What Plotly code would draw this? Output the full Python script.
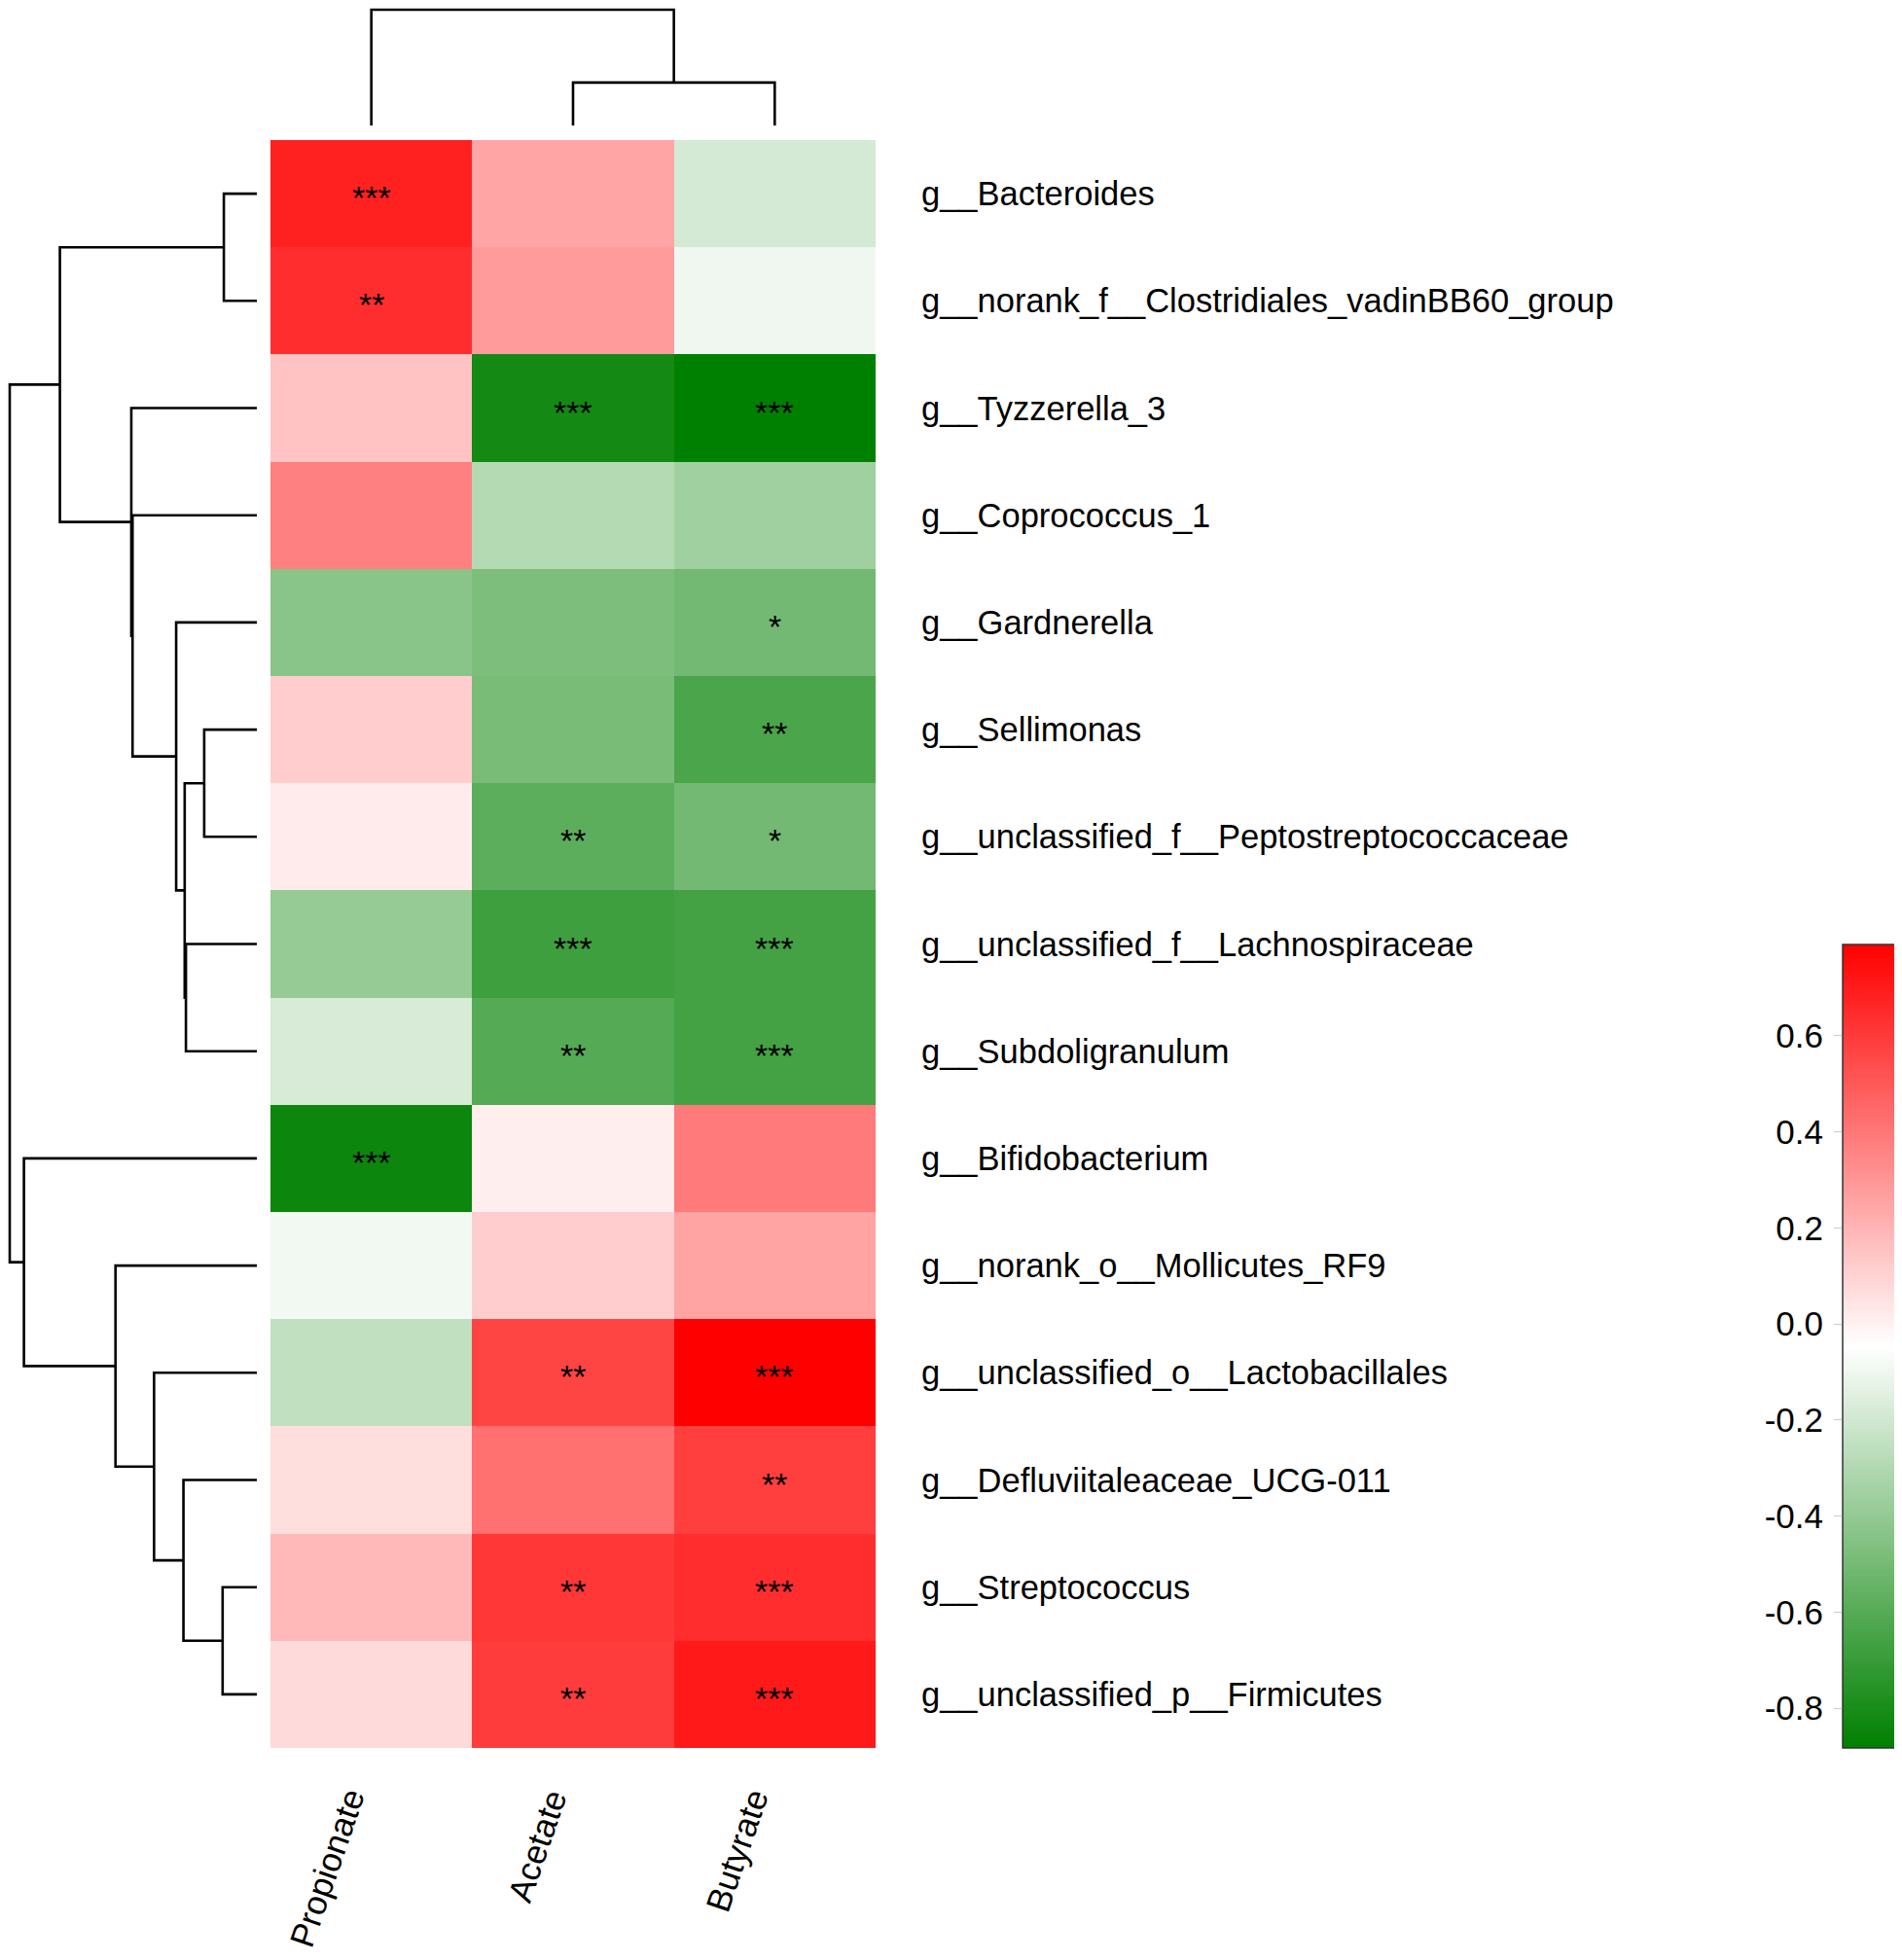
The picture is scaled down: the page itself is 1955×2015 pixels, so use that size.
import plotly.graph_objects as go
import numpy as np

W, H = 1955, 2015
PAGE_MARGIN = 8  # default body margin of the html page

# ---------------- data ----------------
taxa = [
    "g__Bacteroides",
    "g__norank_f__Clostridiales_vadinBB60_group",
    "g__Tyzzerella_3",
    "g__Coprococcus_1",
    "g__Gardnerella",
    "g__Sellimonas",
    "g__unclassified_f__Peptostreptococcaceae",
    "g__unclassified_f__Lachnospiraceae",
    "g__Subdoligranulum",
    "g__Bifidobacterium",
    "g__norank_o__Mollicutes_RF9",
    "g__unclassified_o__Lactobacillales",
    "g__Defluviitaleaceae_UCG-011",
    "g__Streptococcus",
    "g__unclassified_p__Firmicutes",
]
acids = ["Propionate", "Acetate", "Butyrate"]

propionate = [0.685, 0.643, 0.150, 0.370, -0.434, 0.117, 0.019, -0.391, -0.178,
              -0.844, -0.089, -0.253, 0.062, 0.183, 0.075]
acetate = [0.249, 0.281, -0.816, -0.292, -0.473, -0.490, -0.581, -0.680, -0.604,
           0.010, 0.117, 0.567, 0.423, 0.609, 0.593]
butyrate = [-0.184, -0.096, -0.883, -0.358, -0.506, -0.637, -0.506, -0.660, -0.660,
            0.390, 0.255, 0.790, 0.587, 0.643, 0.708]

sig_propionate = ["***", "**", "", "", "", "", "", "", "", "***", "", "", "", "", ""]
sig_acetate = ["", "", "***", "", "", "", "**", "***", "**", "", "", "**", "", "**", "**"]
sig_butyrate = ["", "", "***", "", "*", "**", "*", "***", "***", "", "", "***", "**", "***", "***"]

# row dendrogram (leaf indices 0..14 in display order, new nodes numbered from 15)
row_link_left = [0, 5, 7, 16, 4, 3, 2, 15, 13, 12, 11, 10, 9, 22]
row_link_right = [1, 6, 8, 17, 18, 19, 20, 21, 14, 23, 24, 25, 26, 27]
row_link_height = [0.267, 0.426, 0.574, 0.584, 0.653, 1.006, 1.016, 1.594,
                   0.277, 0.594, 0.832, 1.144, 1.885, 2.000]

# column dendrogram (leaves 0..2, new nodes from 3)
col_link_left = [1, 0]
col_link_right = [2, 3]
col_link_height = [0.371, 1.000]

cbar_ticks = [-0.8, -0.6, -0.4, -0.2, 0.0, 0.2, 0.4, 0.6]

# ---------------- helpers ----------------
def px_x(p):
    return (p - PAGE_MARGIN) / W


def px_y(p):
    return 1 - (p - PAGE_MARGIN) / H


def dendro_segments(n_leaves, left, right, height):
    pos = {i: float(i) for i in range(n_leaves)}
    hgt = {i: 0.0 for i in range(n_leaves)}
    hs, ps = [], []
    for k, (a, b, h) in enumerate(zip(left, right, height)):
        node = n_leaves + k
        pa, pb = pos[a], pos[b]
        hs += [hgt[a], h, h, hgt[b], None]
        ps += [pa, pa, pb, pb, None]
        pos[node] = (pa + pb) / 2
        hgt[node] = h
    return hs, ps


z = [[p, a, b] for p, a, b in zip(propionate, acetate, butyrate)]
stars = [[p, a, b] for p, a, b in zip(sig_propionate, sig_acetate, sig_butyrate)]
zmin = min(min(propionate), min(acetate), min(butyrate))
zmax = max(max(propionate), max(acetate), max(butyrate))
colorscale = [[0.0, "#008000"], [0.5, "#FFFFFF"], [1.0, "#FF0000"]]

n_rows = len(taxa)
n_cols = len(acids)
FONT = "Liberation Sans, Arial, sans-serif"

fig = go.Figure()

# heatmap
fig.add_trace(go.Heatmap(
    z=z, x=list(range(n_cols)), y=list(range(n_rows)),
    colorscale=colorscale, zmin=zmin, zmax=zmax, showscale=False,
    xaxis="x", yaxis="y", hoverinfo="skip",
))

# row dendrogram
rh, rp = dendro_segments(n_rows, row_link_left, row_link_right, row_link_height)
fig.add_trace(go.Scatter(x=rh, y=rp, mode="lines", line=dict(color="black", width=2.6),
                         xaxis="x2", yaxis="y2", hoverinfo="skip", showlegend=False))

# column dendrogram
ch, cp = dendro_segments(n_cols, col_link_left, col_link_right, col_link_height)
fig.add_trace(go.Scatter(x=cp, y=ch, mode="lines", line=dict(color="black", width=2.6),
                         xaxis="x3", yaxis="y3", hoverinfo="skip", showlegend=False))

# colour legend
levels = np.linspace(zmin, zmax, 400)
fig.add_trace(go.Heatmap(
    z=[[v] for v in levels], x=[0], y=levels,
    colorscale=colorscale, zmin=zmin, zmax=zmax, showscale=False,
    xaxis="x4", yaxis="y4", hoverinfo="skip",
))

row_root = max(row_link_height)
col_root = max(col_link_height)
hm_xdom = [px_x(278), px_x(900)]
hm_ydom = [px_y(1797), px_y(144)]

hidden = dict(visible=False, showgrid=False, zeroline=False)
fig.update_layout(
    width=W, height=H,
    margin=dict(l=0, r=0, t=0, b=0, pad=0),
    paper_bgcolor="white", plot_bgcolor="white",
    showlegend=False,
    xaxis=dict(domain=hm_xdom, range=[-0.5, n_cols - 0.5], anchor="y", **hidden),
    yaxis=dict(domain=hm_ydom, range=[n_rows - 0.5, -0.5], anchor="x", **hidden),
    xaxis2=dict(domain=[0, px_x(264)], range=[row_root * 256 / 254, 0], anchor="y2", **hidden),
    yaxis2=dict(domain=hm_ydom, range=[n_rows - 0.5, -0.5], anchor="x2", **hidden),
    xaxis3=dict(domain=hm_xdom, range=[-0.5, n_cols - 0.5], anchor="y3", **hidden),
    yaxis3=dict(domain=[px_y(129), 1], range=[0, col_root * 121 / 119], anchor="x3", **hidden),
    xaxis4=dict(domain=[px_x(1894), px_x(1951)], range=[-0.5, 0.5], anchor="y4", **hidden),
    yaxis4=dict(domain=[px_y(1797), px_y(971)], range=[zmin, zmax], anchor="x4",
                side="left", showgrid=False, zeroline=False, showline=False,
                tickvals=cbar_ticks, ticktext=[f"{v:.1f}" for v in cbar_ticks],
                ticks="outside", ticklen=8, tickwidth=1, tickcolor="#cccccc",
                ticklabelstandoff=4,
                tickfont=dict(size=35, color="black", family=FONT)),
    shapes=[dict(type="rect", xref="x4 domain", yref="y4 domain", x0=0, x1=1, y0=0, y1=1,
                 line=dict(color="#333333", width=1.5), fillcolor="rgba(0,0,0,0)")],
)

annotations = []
# significance stars
for i in range(n_rows):
    for j in range(n_cols):
        if stars[i][j]:
            annotations.append(dict(
                x=j, xref="x", y=i, yref="y", text=stars[i][j], showarrow=False,
                xanchor="center", yanchor="middle", yshift=-4,
                font=dict(size=34, color="black", family=FONT),
            ))
# row labels
for i, name in enumerate(taxa):
    annotations.append(dict(
        x=px_x(945), xref="paper", y=i, yref="y", text=name, showarrow=False,
        xanchor="left", yanchor="middle",
        font=dict(size=34.5, color="black", family=FONT),
    ))
# column labels
for j, name in enumerate(acids):
    annotations.append(dict(
        x=j, xref="x", y=px_y(1832), yref="paper", text=name, showarrow=False,
        xanchor="right", yanchor="top", textangle=-71, xshift=3,
        font=dict(size=35, color="black", family=FONT),
    ))
fig.update_layout(annotations=annotations)

fig.write_html("out.html")
